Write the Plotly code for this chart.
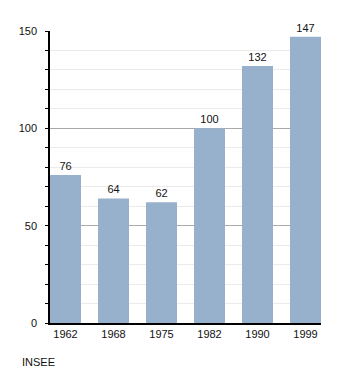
import plotly.graph_objects as go

years = ["1962", "1968", "1975", "1982", "1990", "1999"]
values = [76, 64, 62, 100, 132, 147]
y_ticks = [0, 50, 100, 150]

x_pos = list(range(len(years)))
FONT = "Liberation Sans, Arial, sans-serif"

fig = go.Figure()
fig.add_trace(go.Bar(
    x=x_pos, y=values, width=0.646,
    marker=dict(color="#97b0cc", line=dict(width=0)),
    text=[str(v) for v in values], textposition="outside",
    textfont=dict(family=FONT, size=11, color="#111111"),
    cliponaxis=False,
))

fig.update_layout(
    width=350, height=373,
    margin=dict(l=50, r=29, t=31, b=50),
    paper_bgcolor="white", plot_bgcolor="white",
    showlegend=False,
    font=dict(family=FONT, size=11, color="#111111"),
    xaxis=dict(
        range=[-0.323, 5.323], tickmode="array", tickvals=x_pos, ticktext=years,
        tickfont=dict(family=FONT, size=11, color="#111111"),
        showgrid=False, showline=True, linecolor="black", linewidth=1.5,
        ticks="", zeroline=False, fixedrange=True,
    ),
    yaxis=dict(
        range=[0, 150], tickmode="array", tickvals=y_ticks,
        tickfont=dict(family=FONT, size=11, color="#111111"),
        ticklabelstandoff=6,
        showgrid=True, gridcolor="#aaaaaa", gridwidth=1,
        showline=True, linecolor="black", linewidth=1.5,
        ticks="outside", ticklen=3, tickcolor="black",
        zeroline=False,
        minor=dict(dtick=10, ticks="outside", ticklen=3, tickcolor="black",
                   showgrid=True, gridcolor="#ebebeb"),
    ),
    annotations=[dict(text="INSEE", x=(20 - 50) / 271, y=(373 - 50 - 362) / 292,
                      xref="paper", yref="paper",
                      showarrow=False, xanchor="left", yanchor="middle",
                      font=dict(family=FONT, size=11, color="#111111"))],
)

fig.write_html("out.html")
